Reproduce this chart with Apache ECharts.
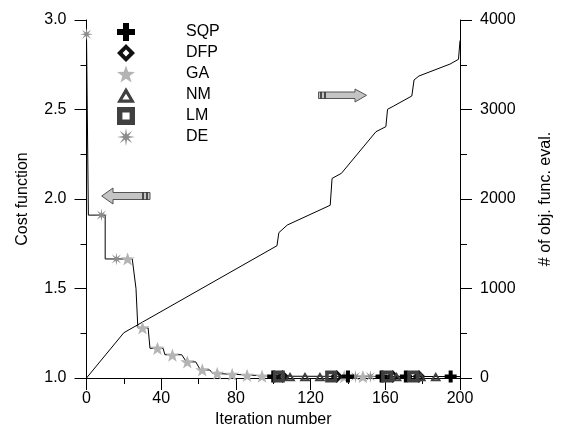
<!DOCTYPE html>
<html>
<head>
<meta charset="utf-8">
<script src="https://cdn.jsdelivr.net/npm/echarts@6/dist/echarts.min.js"></script>
<style>
  html, body { margin: 0; padding: 0; background: #fff; }
  #chart { width: 562px; height: 445px; }
</style>
</head>
<body>
<div id="chart"></div>
<script>
// cost function (left axis), step-like history of the best value
const costIter  = [0, 1, 1, 10, 10, 24.5, 26.5, 27.5, 33, 34, 41, 42, 51, 53.5, 58.5, 61, 66, 67.5, 80, 100, 200];
const costValue = [2.92, 2.92, 1.91, 1.91, 1.665, 1.665, 1.50, 1.28, 1.28, 1.166, 1.166, 1.13, 1.13, 1.09, 1.09, 1.045, 1.045, 1.026, 1.02, 1.01, 1.008];

// number of objective function evaluations (right axis)
const evalIter  = [0, 20, 102, 103, 107.5, 130.5, 131.5, 136.5, 155, 160.3, 161.2, 164.5, 174.2, 175.4, 178, 194.7, 199.2, 200];
const evalCount = [0, 506, 1478, 1624, 1709, 1930, 2230, 2287, 2752, 2808, 3002, 3039, 3151, 3330, 3374, 3508, 3561, 3770];

// which algorithm gave the best point at each marked iteration
const sqpIter = [100, 140, 158, 171, 195];
const sqpCost = [1.008, 1.008, 1.008, 1.008, 1.008];
const dfpIter = [105, 134, 164, 178];
const dfpCost = [1.008, 1.008, 1.008, 1.008];
const gaIter  = [22, 30, 38, 46, 54, 62, 70, 78, 86, 94, 138, 148];
const gaCost  = [1.665, 1.28, 1.166, 1.128, 1.09, 1.045, 1.026, 1.02, 1.015, 1.01, 1.008, 1.008];
const nmIter  = [109, 117, 125, 166, 179, 187];
const nmCost  = [1.008, 1.008, 1.008, 1.008, 1.008, 1.008];
const lmIter  = [103, 131, 161, 175];
const lmCost  = [1.008, 1.008, 1.008, 1.008];
const deIter  = [0, 8, 16, 144, 152];
const deCost  = [2.92, 1.91, 1.665, 1.008, 1.008];

const xTicks = [0, 40, 80, 120, 160, 200];

function pairs(xs, ys) {
  return xs.map(function (x, i) { return [x, ys[i]]; });
}

// marker shapes (holes drawn with reversed winding)
const PLUS = 'path://M-1,-3 L1,-3 L1,-1 L3,-1 L3,1 L1,1 L1,3 L-1,3 L-1,1 L-3,1 L-3,-1 L-1,-1 Z';
const DIAMOND = 'path://M0,-10 L10,0 L0,10 L-10,0 Z M0,-3.8 L-3.8,0 L0,3.8 L3.8,0 Z';
const STAR = 'path://M0,-10 L2.35,-3.24 L9.51,-3.09 L3.8,1.24 L5.88,8.09 L0,4 L-5.88,8.09 L-3.8,1.24 L-9.51,-3.09 L-2.35,-3.24 Z';
const TRIANGLE = 'path://M0,-9 L10,8 L-10,8 Z M0,-1.8 L-4,4.6 L4,4.6 Z';
const SQUARE = 'path://M-5,-5 L5,-5 L5,5 L-5,5 Z M-2,-2 L-2,2 L2,2 L2,-2 Z';
const ASTER = 'path://M0,-10 L1.15,-2.77 L7.07,-7.07 L2.77,-1.15 L10,0 L2.77,1.15 L7.07,7.07 L1.15,2.77 L0,10 L-1.15,2.77 L-7.07,7.07 L-2.77,1.15 L-10,0 L-2.77,-1.15 L-7.07,-7.07 L-1.15,-2.77 Z';

const FONT = 'Liberation Sans';

function markerSeries(name, xs, ys, symbol, size, color) {
  return {
    name: name,
    type: 'scatter',
    data: pairs(xs, ys),
    symbol: symbol,
    symbolSize: size,
    symbolKeepAspect: true,
    itemStyle: { color: color, opacity: 1 },
    z: 5
  };
}

function tickStyle(len, minorLen) {
  return {
    axisTick: { show: true, inside: false, length: len, lineStyle: { color: '#000', width: 1 } },
    minorTick: { show: true, splitNumber: 2, length: minorLen, lineStyle: { color: '#000', width: 1 } }
  };
}

let chart = echarts.init(document.getElementById('chart'), null, { renderer: 'canvas' });

let option = {
  animation: false,
  backgroundColor: '#fff',
  textStyle: { fontFamily: FONT, color: '#000' },
  grid: { left: 86.5, right: 100, top: 20, bottom: 67 },
  legend: {
    orient: 'vertical',
    left: 112,
    top: 18,
    itemWidth: 18,
    itemHeight: 18,
    itemGap: 3,
    data: ['SQP', 'DFP', 'GA', 'NM', 'LM', 'DE'],
    formatter: function (name) { return '{s|}' + name; },
    textStyle: {
      fontFamily: FONT, fontSize: 16, color: '#000', lineHeight: 18,
      rich: { s: { width: 46 } }
    },
    selectedMode: false
  },
  xAxis: Object.assign({
    type: 'value',
    min: 0,
    max: 200,
    interval: 40,
    name: 'Iteration number',
    nameLocation: 'middle',
    nameGap: 26,
    nameTextStyle: { fontFamily: FONT, fontSize: 16, color: '#000' },
    axisLine: { show: true, onZero: false, lineStyle: { color: '#000', width: 1 } },
    axisLabel: {
      margin: 13, fontFamily: FONT, fontSize: 16, color: '#000',
      formatter: function (v) { return xTicks.indexOf(v) >= 0 ? String(v) : ''; }
    },
    splitLine: { show: false },
    minorSplitLine: { show: false }
  }, tickStyle(12, 6)),
  yAxis: [
    Object.assign({
      type: 'value',
      position: 'left',
      min: 1,
      max: 3,
      interval: 0.5,
      name: 'Cost function',
      nameLocation: 'middle',
      nameGap: 56,
      nameRotate: 90,
      nameTextStyle: { fontFamily: FONT, fontSize: 16, color: '#000' },
      axisLine: { show: true, onZero: false, lineStyle: { color: '#000', width: 1 } },
      axisLabel: {
        margin: 20, fontFamily: FONT, fontSize: 16, color: '#000',
        formatter: function (v) { return v.toFixed(1); }
      },
      splitLine: { show: false },
      minorSplitLine: { show: false }
    }, tickStyle(12, 6)),
    Object.assign({
      type: 'value',
      position: 'right',
      min: 0,
      max: 4000,
      interval: 1000,
      name: '# of obj. func. eval.',
      nameLocation: 'middle',
      nameGap: 78,
      nameRotate: 90,
      nameTextStyle: { fontFamily: FONT, fontSize: 16, color: '#000' },
      axisLine: { show: true, onZero: false, lineStyle: { color: '#000', width: 1 } },
      axisLabel: {
        margin: 20, fontFamily: FONT, fontSize: 16, color: '#000',
        formatter: function (v) { return String(v); }
      },
      splitLine: { show: false },
      minorSplitLine: { show: false }
    }, tickStyle(12, 7))
  ],
  series: [
    {
      name: 'cost',
      type: 'line',
      data: pairs(costIter, costValue),
      showSymbol: false,
      symbol: 'none',
      lineStyle: { color: '#000', width: 1 },
      z: 3
    },
    {
      name: 'evals',
      type: 'line',
      yAxisIndex: 1,
      data: pairs(evalIter, evalCount),
      showSymbol: false,
      symbol: 'none',
      lineStyle: { color: '#000', width: 1 },
      z: 3
    },
    markerSeries('GA', gaIter, gaCost, STAR, 14, '#b4b4b4'),
    markerSeries('DE', deIter, deCost, ASTER, 13, '#8c8c8c'),
    markerSeries('SQP', sqpIter, sqpCost, PLUS, 12, '#000'),
    markerSeries('DFP', dfpIter, dfpCost, DIAMOND, 13, '#111'),
    markerSeries('LM', lmIter, lmCost, SQUARE, 12, '#404040'),
    markerSeries('NM', nmIter, nmCost, TRIANGLE, 11, '#404040')
  ],
  // the two block arrows pointing at the axes
  graphic: [
    {
      type: 'polygon',
      shape: { points: [[101.7, 196], [113, 188], [113, 192.5], [150, 192.5], [150, 199.5], [113, 199.5], [113, 204]] },
      style: { fill: '#c4c4c4', stroke: '#555', lineWidth: 1 }
    },
    { type: 'line', shape: { x1: 143, y1: 192.5, x2: 143, y2: 199.5 }, style: { stroke: '#222', lineWidth: 1.5 } },
    { type: 'line', shape: { x1: 147, y1: 192.5, x2: 147, y2: 199.5 }, style: { stroke: '#222', lineWidth: 1.5 } },
    {
      type: 'polygon',
      shape: { points: [[318.5, 92], [355, 92], [355, 89], [366.5, 95.3], [355, 102], [355, 98.5], [318.5, 98.5]] },
      style: { fill: '#c4c4c4', stroke: '#555', lineWidth: 1 }
    },
    { type: 'line', shape: { x1: 321, y1: 92, x2: 321, y2: 98.5 }, style: { stroke: '#222', lineWidth: 1.5 } },
    { type: 'line', shape: { x1: 325, y1: 92, x2: 325, y2: 98.5 }, style: { stroke: '#222', lineWidth: 1.5 } }
  ]
};

chart.setOption(option);
</script>
</body>
</html>
